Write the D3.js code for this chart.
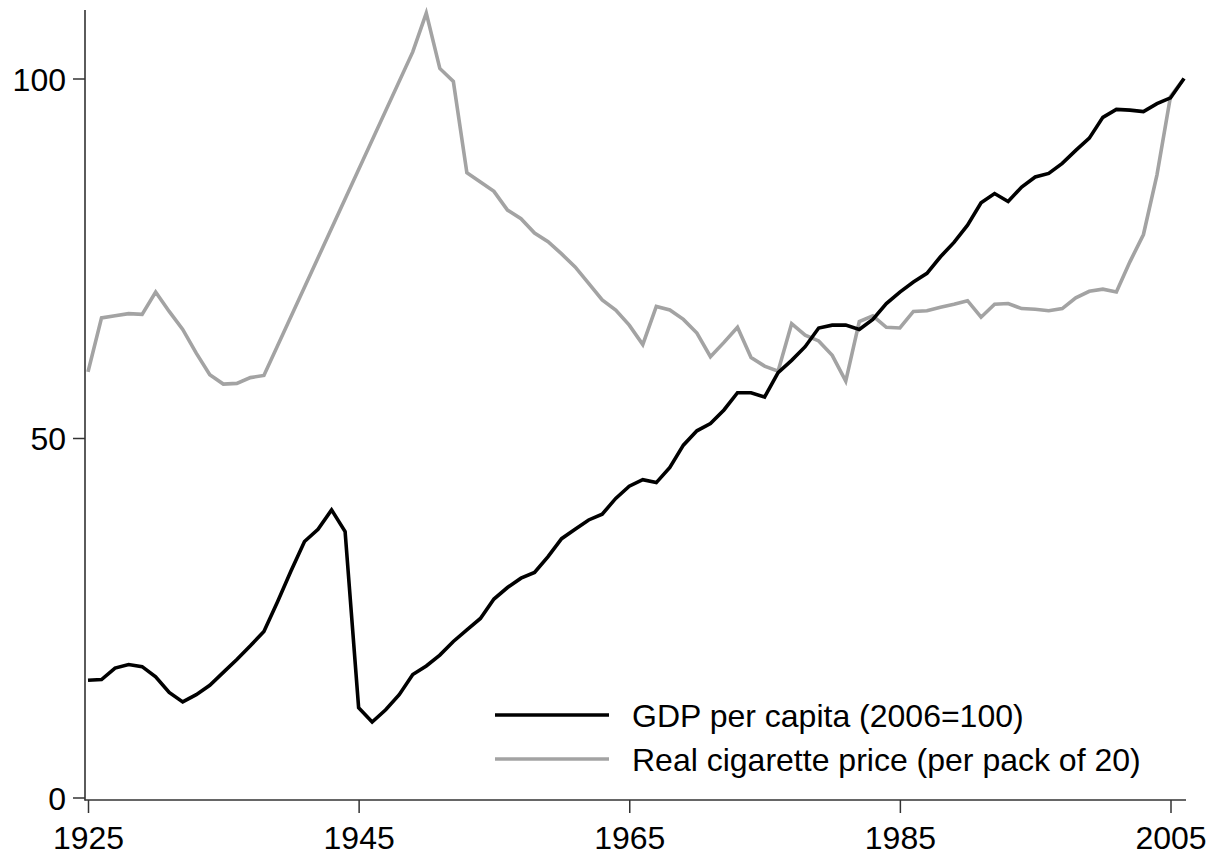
<!DOCTYPE html>
<html>
<head>
<meta charset="utf-8">
<script src="https://cdn.jsdelivr.net/npm/d3@7"></script>
<style>
  html, body { margin: 0; padding: 0; background: #fff; }
  svg { display: block; font-family: "Liberation Sans", Arial, sans-serif; }
</style>
</head>
<body>
<svg id="chart" width="1212" height="855"></svg>
<script>
// Years and series values
const gdpYears = [1925,1926,1927,1928,1929,1930,1931,1932,1933,1934,1935,1936,1937,1938,1939,1940,1941,1942,1943,1944,1945,1946,1947,1948,1949,1950,1951,1952,1953,1954,1955,1956,1957,1958,1959,1960,1961,1962,1963,1964,1965,1966,1967,1968,1969,1970,1971,1972,1973,1974,1975,1976,1977,1978,1979,1980,1981,1982,1983,1984,1985,1986,1987,1988,1989,1990,1991,1992,1993,1994,1995,1996,1997,1998,1999,2000,2001,2002,2003,2004,2005,2006];
const gdpValues = [16.3,16.4,18.0,18.5,18.2,16.8,14.6,13.3,14.3,15.6,17.4,19.2,21.1,23.1,27.2,31.5,35.6,37.3,40.0,37.0,12.5,10.5,12.2,14.3,17.1,18.3,19.8,21.7,23.3,24.9,27.6,29.2,30.5,31.3,33.5,36.0,37.3,38.6,39.4,41.6,43.3,44.2,43.8,45.9,49.0,51.0,52.0,53.9,56.3,56.3,55.7,59.1,60.8,62.7,65.3,65.7,65.7,65.1,66.5,68.7,70.3,71.7,72.9,75.2,77.2,79.6,82.7,84.0,82.9,84.9,86.3,86.8,88.2,90.0,91.7,94.6,95.7,95.6,95.4,96.5,97.3,100.0];

const cigYears = [1925,1926,1927,1928,1929,1930,1931,1932,1933,1934,1935,1936,1937,1938,1949,1950,1951,1952,1953,1954,1955,1956,1957,1958,1959,1960,1961,1962,1963,1964,1965,1966,1967,1968,1969,1970,1971,1972,1973,1974,1975,1976,1977,1978,1979,1980,1981,1982,1983,1984,1985,1986,1987,1988,1989,1990,1991,1992,1993,1994,1995,1996,1997,1998,1999,2000,2001,2002,2003,2004,2005,2006];
const cigValues = [59.2,66.7,67.0,67.3,67.2,70.3,67.6,65.1,61.8,58.8,57.5,57.6,58.4,58.7,103.7,109.1,101.4,99.6,86.9,85.6,84.3,81.7,80.5,78.5,77.3,75.6,73.8,71.5,69.2,67.8,65.7,63.0,68.3,67.8,66.5,64.6,61.3,63.3,65.4,61.2,60.0,59.3,65.9,64.3,63.5,61.5,57.9,66.2,67.0,65.4,65.3,67.6,67.7,68.2,68.6,69.1,66.8,68.6,68.7,68.0,67.9,67.7,68.0,69.5,70.4,70.7,70.3,74.5,78.3,86.6,97.5,100.0];

const xTicks = [1925,1945,1965,1985,2005];
const yTicks = [0,50,100];
const seriesNames = ["GDP per capita (2006=100)", "Real cigarette price (per pack of 20)"];
const seriesColors = ["#000000", "#a3a3a3"];

const svg = d3.select("#chart");
const FONT = 32;

const x = d3.scaleLinear().domain([1925, 2005]).range([88, 1170.5]);
const y = d3.scaleLinear().domain([0, 100]).range([797.5, 78.5]);

// Axis lines
svg.append("line").attr("x1", 85).attr("x2", 85).attr("y1", 10).attr("y2", 800.5)
  .attr("stroke", "#333").attr("stroke-width", 1.6);
svg.append("line").attr("x1", 84.5).attr("x2", 1186).attr("y1", 800).attr("y2", 800)
  .attr("stroke", "#333").attr("stroke-width", 1.6);

// Y axis
const yAxis = d3.axisLeft(y).tickValues(yTicks).tickSize(12).tickPadding(7).tickFormat(d3.format("d"));
const gy = svg.append("g").attr("transform", "translate(85,0)").call(yAxis);
gy.select(".domain").remove();
gy.selectAll(".tick line").attr("stroke", "#333").attr("stroke-width", 1.5);
gy.selectAll(".tick text").attr("font-size", FONT).attr("fill", "#000")
  .attr("font-family", "Liberation Sans, Arial, sans-serif").attr("dy", "0.36em");

// X axis
const xAxis = d3.axisBottom(x).tickValues(xTicks).tickSize(13).tickPadding(13).tickFormat(d3.format("d"));
const gx = svg.append("g").attr("transform", "translate(0,800)").call(xAxis);
gx.select(".domain").remove();
gx.selectAll(".tick line").attr("stroke", "#333").attr("stroke-width", 1.5);
gx.selectAll(".tick text").attr("font-size", FONT).attr("fill", "#000")
  .attr("font-family", "Liberation Sans, Arial, sans-serif");

// Lines
const line = d3.line().x(d => x(d[0])).y(d => y(d[1]));
const gdpData = gdpYears.map((yr, i) => [yr, gdpValues[i]]);
const cigData = cigYears.map((yr, i) => [yr, cigValues[i]]);

svg.append("path").datum(cigData).attr("d", line)
  .attr("fill", "none").attr("stroke", seriesColors[1]).attr("stroke-width", 3.6)
  .attr("stroke-linejoin", "miter");
svg.append("path").datum(gdpData).attr("d", line)
  .attr("fill", "none").attr("stroke", seriesColors[0]).attr("stroke-width", 3.6)
  .attr("stroke-linejoin", "miter");

// Legend
const legend = svg.append("g");
const legY = [715, 759];
seriesNames.forEach((name, i) => {
  legend.append("line").attr("x1", 495).attr("x2", 609).attr("y1", legY[i]).attr("y2", legY[i])
    .attr("stroke", seriesColors[i]).attr("stroke-width", 3.6);
  legend.append("text").attr("x", 632).attr("y", legY[i] + 12)
    .attr("font-size", FONT).attr("fill", "#000").text(name);
});
</script>
</body>
</html>
